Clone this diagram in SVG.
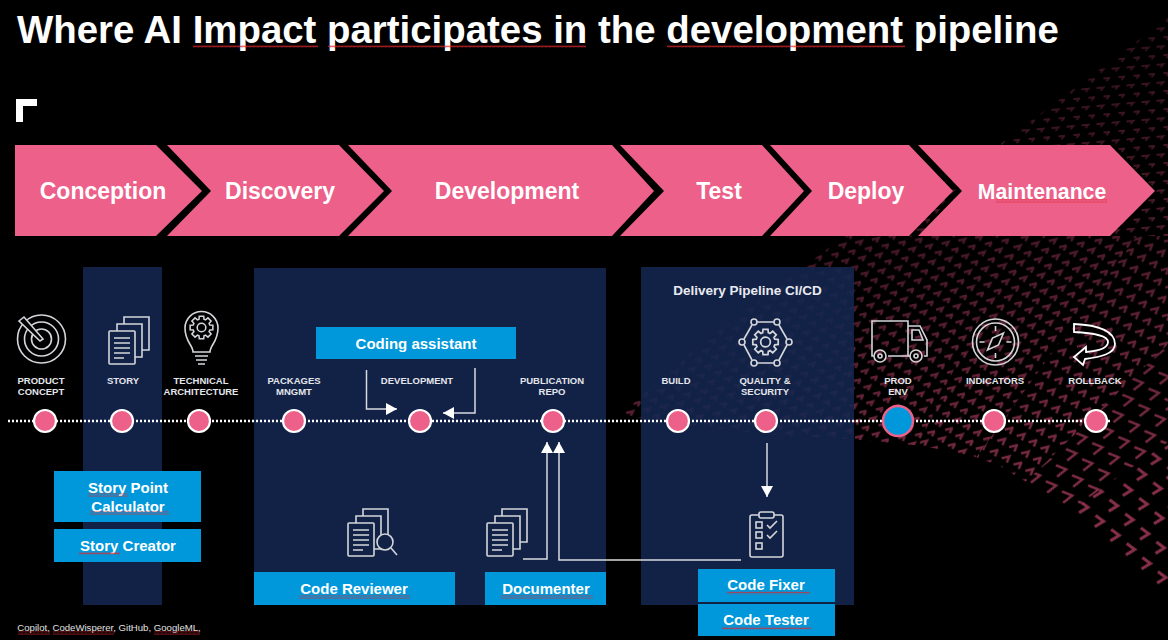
<svg xmlns="http://www.w3.org/2000/svg" width="1168" height="640" viewBox="0 0 1168 640">
<style>
text{font-family:"Liberation Sans",Arial,sans-serif;text-anchor:middle}
.t{font-weight:700;font-size:38.4px;fill:#fff;text-anchor:start}
.ph{font-weight:700;font-size:23px;fill:#fff}
.st{fill:#ec608a}
.box{fill:#0098da}
.bt{font-weight:700;font-size:15px;fill:#fff}
.lb{font-weight:700;font-size:9.5px;fill:#e4e6ec}
.pan{fill:#152750;fill-opacity:.88}
.nd{fill:#ec608a;stroke:#fff;stroke-width:2.2}
.ic{fill:none;stroke:#d4d6da;stroke-width:1.6}
.cn{fill:none;stroke:#d8dae0;stroke-width:1.5}
.sq{fill:url(#sq)}
.ch{fill:none;stroke:#883049;stroke-width:2.4}
</style>
<defs>
<pattern id="sq" width="4" height="3" patternUnits="userSpaceOnUse"><path d="M0 2.4L1 .6L2 2.4L3 .6L4 2.4" fill="none" stroke="#e0262e" stroke-width=".7"/></pattern>
<pattern id="pA" width="15" height="18" patternUnits="userSpaceOnUse" patternTransform="skewY(-5)"><path class="ch" style="stroke-width:1.8" d="M1.500 4h7l-3 3M8.500 13h6l-3 3"/></pattern>
<pattern id="pA2" width="17" height="16" patternUnits="userSpaceOnUse" patternTransform="rotate(-10)"><path class="ch" d="M1 3.500L8 3L5 7M9.500 11.500L16.500 11L13.500 15"/></pattern>
<pattern id="pB" width="18" height="16" patternUnits="userSpaceOnUse" patternTransform="rotate(-10)"><path class="ch" d="M1 3.500L8.500 3L5 7.500M10 11.500L17.500 11L14 15.500"/></pattern>
<pattern id="pC" width="20" height="18" patternUnits="userSpaceOnUse" patternTransform="rotate(-14)"><path class="ch" d="M1 3L9 3L5 8.500M11 12L19 12L15 17.500"/></pattern>
<pattern id="pD" width="19" height="19" patternUnits="userSpaceOnUse" patternTransform="rotate(32)"><path class="ch" d="M2 6L13 4L9 15"/></pattern>
<pattern id="pE" width="21" height="21" patternUnits="userSpaceOnUse" patternTransform="rotate(42)"><path class="ch" d="M4 7L14 6L11 16" style="stroke-width:3"/></pattern>
<clipPath id="field"><path d="M1168 18L1003 142L850 232L700 345L620 415L760 434L860 440L923 446L973 456L1000 466L1023 480L1053 496L1083 518L1113 545L1130 560L1147 576L1168 600Z"/></clipPath>
<linearGradient id="fg" gradientUnits="userSpaceOnUse" x1="940" y1="40" x2="1060" y2="520"><stop offset="0" stop-color="#555"/><stop offset=".45" stop-color="#888"/><stop offset="1" stop-color="#fff"/></linearGradient>
<mask id="fade" maskUnits="userSpaceOnUse" x="0" y="0" width="1168" height="640"><rect width="1168" height="640" fill="url(#fg)"/></mask>
<symbol id="gear" viewBox="-13 -13 26 26" overflow="visible"><path d="M8.600-2.600L11.800-2.300L11.800 2.300L8.600 2.600L7.900 4.200L10 6.700L6.700 10L4.200 7.900L2.600 8.600L2.300 11.800L-2.300 11.800L-2.600 8.600L-4.200 7.900L-6.700 10L-10 6.700L-7.900 4.200L-8.600 2.600L-11.800 2.300L-11.800-2.300L-8.600-2.600L-7.900-4.200L-10-6.700L-6.700-10L-4.200-7.900L-2.600-8.600L-2.300-11.800L2.300-11.800L2.600-8.600L4.200-7.900L6.700-10L10-6.700L7.900-4.200Z" class="ic"/><circle r="4.500" class="ic"/></symbol>
<g id="docs"><rect y="14" width="26" height="33" rx="1" class="ic"/><path class="ic" d="M8 14V7H33V40H26M15 7V0H40V33H33"/><path class="ic" d="M5 21H21M5 26H21M5 31H21M5 36H21M5 41H15"/></g>
<marker id="ah" markerUnits="userSpaceOnUse" markerWidth="12" markerHeight="12" refX="11" refY="6" orient="auto"><path d="M0 0L11 6L0 12Z" fill="#fff"/></marker>
</defs>

<rect width="1168" height="640" fill="#000"/>

<g id="chevron-field" clip-path="url(#field)"><g mask="url(#fade)">
<rect x="700" y="0" width="468" height="236" fill="url(#pA)"/>
<polygon points="800,700 1016,236 200,236 200,700" fill="url(#pA2)"/>
<polygon points="800,700 1016,236 1137,236" fill="url(#pB)"/>
<polygon points="800,700 1137,236 1280,236" fill="url(#pC)"/>
<polygon points="800,700 1280,236 1619,126" fill="url(#pD)"/>
<polygon points="800,700 1619,126 1700,800" fill="url(#pE)"/>
</g></g>

<g id="panels">
<rect class="pan" x="83" y="267" width="79" height="338"/>
<rect class="pan" x="254" y="268" width="352" height="337"/>
<rect class="pan" x="641" y="267" width="213" height="338"/>
</g>

<g id="title">
<text class="t" x="17" y="43">Where AI Impact participates in the development pipeline</text>
<rect class="sq" x="193" y="45" width="125" height="3"/>
<rect class="sq" x="328" y="45" width="258" height="3"/>
<rect class="sq" x="667" y="45" width="238" height="3"/>
<path d="M16 99H37V106H23V122H16Z" fill="#fff"/>
</g>

<g id="phase-conception"><path class="st" d="M15 145H156L202 191L156 236H15Z"/><text class="ph" x="103" y="199">Conception</text></g>
<g id="phase-discovery"><path class="st" d="M167 145H339L384 191L339 236H167L211 191Z"/><text class="ph" x="280" y="199">Discovery</text></g>
<g id="phase-development"><path class="st" d="M348 145H612L654 191L612 236H348L392 191Z"/><text class="ph" x="507" y="199">Development</text></g>
<g id="phase-test"><path class="st" d="M620 145H762L804 191L762 236H620L664 191Z"/><text class="ph" x="719" y="199">Test</text></g>
<g id="phase-deploy"><path class="st" d="M770 145H909L953 191L909 236H770L812 191Z"/><text class="ph" x="866" y="199">Deploy</text></g>
<g id="phase-maintenance"><path class="st" d="M918 145H1110L1155 191L1110 236H918L962 191Z"/><text class="ph" x="1042" y="199" style="font-size:21.2px">Maintenance</text><rect class="sq" x="996" y="199.500" width="111" height="3"/></g>

<g id="connectors">
<path d="M8 421H1110" fill="none" stroke="#fff" stroke-width="2.400" stroke-dasharray="2 2"/>
<path class="cn" d="M366.500 370V409H397" marker-end="url(#ah)"/>
<path class="cn" d="M475 368V413H443" marker-end="url(#ah)"/>
<path class="cn" d="M523 559H547V442" marker-end="url(#ah)"/>
<path class="cn" d="M741 560H559V442" marker-end="url(#ah)"/>
<path class="cn" d="M767 443V497" marker-end="url(#ah)"/>
</g>

<g id="product-concept">
<circle class="ic" cx="41.500" cy="339" r="24"/><circle class="ic" cx="41.500" cy="339" r="17"/><circle class="ic" cx="41.500" cy="339" r="10"/>
<path class="ic" d="M43 339L24 317L19 321L40 341Z" style="fill:#000"/>
<text class="lb" x="41" y="384">PRODUCT</text><text class="lb" x="41" y="395">CONCEPT</text>
<circle class="nd" cx="45" cy="421" r="11"/></g>

<g id="story"><use href="#docs" x="109" y="317"/>
<text class="lb" x="123" y="384">STORY</text><circle class="nd" cx="122" cy="421" r="11"/></g>

<g id="technical-architecture">
<path class="ic" d="M193 352C193 345 185 342 185 328A16.500 16.500 0 1 1 218 328C218 342 210 345 210 352Z"/><path class="ic" d="M195 356H208M196 360H207M198 364H205"/>
<use href="#gear" x="189" y="315" width="25" height="25"/>
<text class="lb" x="201" y="384">TECHNICAL</text><text class="lb" x="201" y="395">ARCHITECTURE</text>
<circle class="nd" cx="199" cy="421" r="11"/></g>

<g id="packages"><text class="lb" x="294" y="384">PACKAGES</text><text class="lb" x="294" y="395">MNGMT</text><circle class="nd" cx="294" cy="421" r="11"/></g>
<g id="development"><text class="lb" x="417" y="384">DEVELOPMENT</text><circle class="nd" cx="420" cy="421" r="11"/></g>
<g id="publication-repo"><text class="lb" x="552" y="384">PUBLICATION</text><text class="lb" x="552" y="395">REPO</text><circle class="nd" cx="553" cy="421" r="11"/></g>

<g id="delivery-label"><text x="747.500" y="295" style="font-weight:700;font-size:13.500px;fill:#e8eaf0">Delivery Pipeline CI/CD</text></g>
<g id="build"><text class="lb" x="676" y="384">BUILD</text><circle class="nd" cx="678" cy="421" r="11"/></g>

<g id="quality-security">
<use href="#gear" x="751.500" y="328" width="28" height="28"/>
<g class="ic"><circle cx="754" cy="322" r="3"/><circle cx="777" cy="322" r="3"/><circle cx="742" cy="342" r="3"/><circle cx="789" cy="342" r="3"/><circle cx="754" cy="363" r="3"/><circle cx="777" cy="363" r="3"/><path d="M757 322H774M779 325L787 339M787 345L779 360M774 363H757M752 360L744 345M744 339L752 325"/></g>
<text class="lb" x="765" y="384">QUALITY &amp;</text><text class="lb" x="765" y="395">SECURITY</text>
<circle class="nd" cx="766" cy="421" r="11"/></g>

<g id="prod-env">
<path class="ic" d="M874 356H872V321H908V356H888M908 326H920L927 340V356H924"/><path class="ic" d="M912 330H919L923 340H912Z"/>
<circle class="ic" cx="880" cy="356" r="6"/><circle class="ic" cx="880" cy="356" r="2"/><circle class="ic" cx="916" cy="356" r="6"/><circle class="ic" cx="916" cy="356" r="2"/>
<path class="ic" d="M908 356H910"/>
<text class="lb" x="898" y="384">PROD</text><text class="lb" x="898" y="395">ENV</text>
<circle cx="898" cy="421" r="15" fill="#0098da" stroke="#ec608a" stroke-width="2.500"/></g>

<g id="indicators">
<circle class="ic" cx="995.500" cy="342" r="23"/><circle class="ic" cx="995.500" cy="342" r="19"/>
<path class="ic" d="M1003.500 333L998.500 345L987.500 350L992.500 338Z"/><path class="ic" d="M995.500 326V331M995.500 353V358M979.500 342H984.500M1006.500 342H1011.500"/>
<text class="lb" x="995" y="384">INDICATORS</text><circle class="nd" cx="994" cy="421" r="11"/></g>

<g id="rollback" transform="translate(3 0)">
<path d="M1071 324C1097 325 1112 332 1112 344C1112 354 1097 357 1082 359L1080 365L1071 357L1083 347L1083 352C1095 351 1105 348 1105 342C1105 335 1090 333 1071 332Z" fill="none" stroke="#fff" stroke-width="1.800"/>
<text class="lb" x="1092" y="384">ROLLBACK</text><circle class="nd" cx="1093" cy="421" r="11"/></g>

<g id="coding-assistant"><rect class="box" x="316" y="327" width="200" height="32"/><text class="bt" x="416" y="349">Coding assistant</text></g>

<g id="story-point-calculator"><rect class="box" x="54" y="471" width="147" height="51"/><text class="bt" x="128" y="493">Story Point</text><text class="bt" x="128" y="512">Calculator</text><rect class="sq" x="88" y="493.500" width="40" height="3"/><rect class="sq" x="90" y="511.500" width="79" height="3"/></g>
<g id="story-creator"><rect class="box" x="54" y="529" width="147" height="33"/><text class="bt" x="128" y="551">Story Creator</text><rect class="sq" x="79" y="552" width="41" height="3"/></g>

<g id="code-reviewer"><use href="#docs" x="348" y="509"/><circle class="ic" cx="385" cy="542" r="8" style="fill:#122246"/><path class="ic" d="M391 548L397 555"/>
<rect class="box" x="254" y="572" width="201" height="33"/><text class="bt" x="354" y="594">Code Reviewer</text><rect class="sq" x="299" y="595.500" width="111" height="3"/></g>
<g id="documenter"><use href="#docs" x="487" y="509"/><rect class="box" x="485" y="572" width="121" height="33"/><text class="bt" x="546" y="594">Documenter</text><rect class="sq" x="501" y="595.500" width="92" height="3"/></g>

<g id="code-fixer">
<path class="ic" d="M759 515H752Q750 515 750 517V555Q750 557 752 557H781Q783 557 783 555V517Q783 515 781 515H774"/><rect class="ic" x="759" y="512" width="15" height="6" rx="2"/>
<rect class="ic" x="756" y="522" width="6" height="6"/><rect class="ic" x="756" y="532" width="6" height="6"/><rect class="ic" x="756" y="543" width="6" height="6"/><path class="ic" d="M767 525L770 528L777 521M767 535L770 538L777 531"/>
<rect class="box" x="698" y="569" width="137" height="33"/><text class="bt" x="766" y="590">Code Fixer</text><rect class="sq" x="727" y="591.500" width="83" height="3"/></g>
<g id="code-tester"><rect class="box" x="698" y="604" width="137" height="32"/><text class="bt" x="766" y="625">Code Tester</text><rect class="sq" x="722" y="626.500" width="89" height="3"/></g>

<g id="footnote"><text x="109" y="631" style="font-size:9.600px;fill:#e0e0e0">Copilot, CodeWisperer, GitHub, GoogleML,</text><rect class="sq" x="18" y="631.500" width="32" height="3"/><rect class="sq" x="53" y="631.500" width="61" height="3"/><rect class="sq" x="154" y="631.500" width="46" height="3"/></g>
</svg>
